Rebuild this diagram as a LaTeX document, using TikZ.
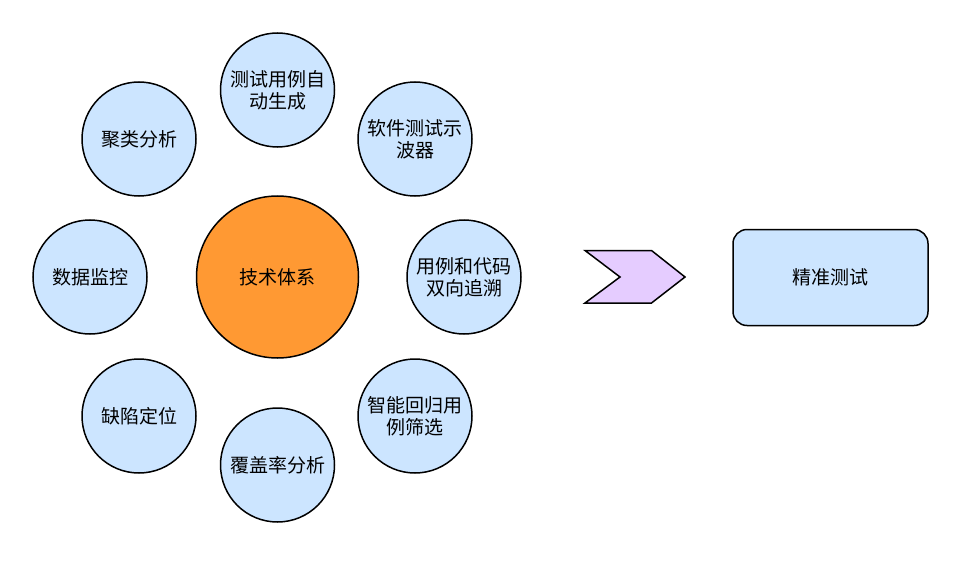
\documentclass[tikz,border=0pt]{standalone}
\usepackage{fontspec}
\newfontfamily\cjk{Noto Sans CJK SC}
\definecolor{satblue}{HTML}{CCE5FF}
\definecolor{coreorange}{HTML}{FF9933}
\definecolor{arrowlilac}{HTML}{E5CCFF}
\tikzset{
  sat/.style={circle, draw, line width=1.5pt, fill=satblue, minimum size=114pt, inner sep=0pt, align=center, font=\cjk\fontsize{19}{21.7}\selectfont},
  core/.style={circle, draw, line width=1.5pt, fill=coreorange, minimum size=162pt, inner sep=0pt, font=\cjk\fontsize{19}{21.7}\selectfont},
  goalbox/.style={draw, line width=1.5pt, fill=satblue, rounded corners=14pt, minimum width=195pt, minimum height=96pt, font=\cjk\fontsize{19}{21.7}\selectfont}
}
\begin{document}
\begin{tikzpicture}[x=1pt, y=-1pt]
\useasboundingbox (0,0) rectangle (960,564);

% Center circle
\node[core] (tech) at (277.5,277) {技术体系};

% Satellite circles around the center
\node[sat] (autogen) at (277.5,90) {测试用例自\\动生成};
\node[sat] (oscope) at (415,139) {软件测试示\\波器};
\node[sat] (trace) at (464,277) {用例和代码\\双向追溯};
\node[sat] (regress) at (415,416) {智能回归用\\例筛选};
\node[sat] (cover) at (277.5,465) {覆盖率分析};
\node[sat] (locate) at (139,416) {缺陷定位};
\node[sat] (monitor) at (90,277) {数据监控};
\node[sat] (cluster) at (139,139) {聚类分析};

% Chevron
\draw[line width=1.5pt, fill=arrowlilac, line join=miter] (585,250.5) -- (651.5,250.5) -- (685,277) -- (651.5,303) -- (585,303) -- (620,277) -- cycle;

% Goal box
\node[goalbox] (precise) at (830.5,277.5) {精准测试};

\end{tikzpicture}
\end{document}
